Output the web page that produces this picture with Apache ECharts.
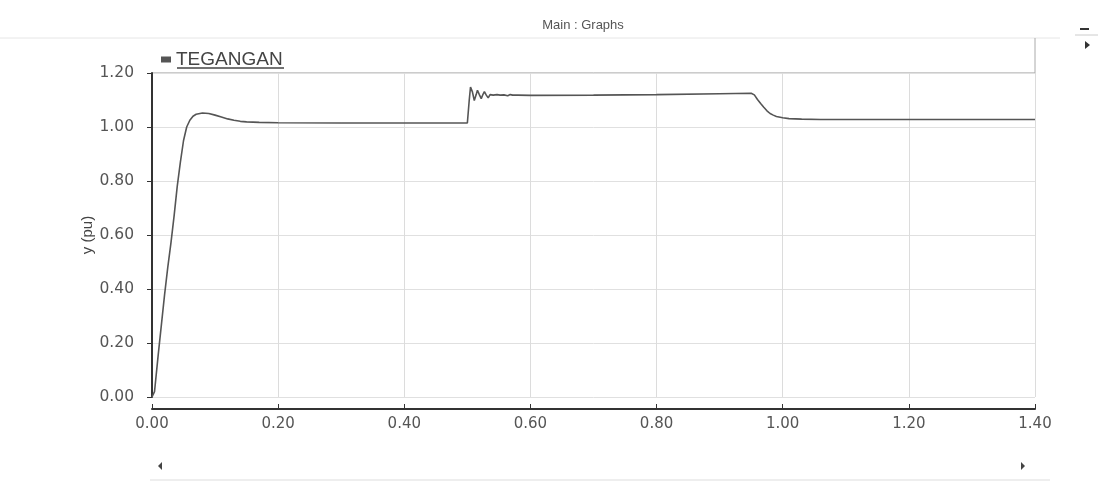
<!DOCTYPE html>
<html>
<head>
<meta charset="utf-8">
<script src="https://cdn.jsdelivr.net/npm/echarts@6/dist/echarts.min.js"></script>
<style>html,body{margin:0;padding:0;background:#fff;}#c{width:1100px;height:483px;}</style>
</head>
<body>
<div id="c"></div>
<script>
const titleText = 'Main : Graphs';
const seriesName = 'TEGANGAN';
const yAxisName = 'y (pu)';
const xTicks = [0, 0.2, 0.4, 0.6, 0.8, 1.0, 1.2, 1.4];
const yTicks = [0, 0.2, 0.4, 0.6, 0.8, 1.0, 1.2];
const timeS = [
  0, 0.004, 0.01, 0.015, 0.02, 0.025, 0.03, 0.035, 0.04, 0.045, 0.05, 0.055, 0.06, 0.065, 0.07, 0.08, 0.09,
  0.10, 0.11, 0.12, 0.13, 0.14, 0.15, 0.17, 0.20, 0.30, 0.40, 0.50,
  0.501, 0.503, 0.505, 0.508, 0.511, 0.514, 0.516, 0.519, 0.522, 0.525, 0.527, 0.530, 0.533, 0.536, 0.538,
  0.541, 0.544, 0.547, 0.549, 0.552, 0.555, 0.558, 0.560, 0.564, 0.568, 0.572, 0.58, 0.60, 0.70, 0.80, 0.90, 0.95,
  0.955, 0.96, 0.965, 0.97, 0.975, 0.98, 0.985, 0.99, 1.00, 1.01, 1.03, 1.06, 1.10, 1.20, 1.30, 1.40
];
const voltagePu = [
  0, 0.02, 0.16, 0.27, 0.38, 0.48, 0.57, 0.67, 0.78, 0.87, 0.95, 1.00, 1.025, 1.04, 1.047, 1.052, 1.050,
  1.044, 1.037, 1.030, 1.025, 1.021, 1.019, 1.017, 1.016, 1.015, 1.015, 1.015,
  1.016, 1.10, 1.148, 1.13, 1.098, 1.12, 1.136, 1.12, 1.105, 1.122, 1.131, 1.118, 1.108, 1.12, 1.127,
  1.118, 1.111, 1.12, 1.125, 1.118, 1.113, 1.119, 1.123, 1.116, 1.12, 1.118, 1.118, 1.117, 1.118, 1.120, 1.123, 1.125,
  1.119, 1.102, 1.087, 1.073, 1.060, 1.050, 1.044, 1.039, 1.034, 1.031, 1.029, 1.028, 1.028, 1.028, 1.028, 1.028
];

const FONT = 'Liberation Sans, Arial, sans-serif';
const TICKFONT = 'DejaVu Sans, sans-serif';
const chart = echarts.init(document.getElementById('c'));
chart.setOption({
  animation: false,
  backgroundColor: '#fff',
  textStyle: { fontFamily: FONT },
  title: {
    text: titleText, left: 578, top: 14, textAlign: 'center',
    textStyle: { fontSize: 13, fontWeight: 'normal', color: '#555', fontFamily: FONT }
  },
  legend: {
    left: 156, top: 45, icon: 'rect', itemWidth: 10, itemHeight: 6, itemGap: 10,
    data: [seriesName],
    textStyle: { fontSize: 19, color: '#444', fontFamily: FONT }
  },
  grid: { left: 152, right: 65, top: 73, bottom: 86 },
  xAxis: {
    type: 'value', min: xTicks[0], max: xTicks[xTicks.length - 1], interval: 0.2,
    offset: 12,
    axisLine: { show: true, onZero: false, lineStyle: { color: '#333', width: 2 } },
    axisTick: { show: true, inside: true, length: 5, lineStyle: { color: '#333' } },
    axisLabel: { fontSize: 15, color: '#555', margin: 8, fontFamily: TICKFONT, formatter: v => v.toFixed(2) },
    splitLine: { show: true, lineStyle: { color: '#dcdcdc', width: 1 } }
  },
  yAxis: {
    type: 'value', min: yTicks[0], max: yTicks[yTicks.length - 1], interval: 0.2,
    name: yAxisName, nameLocation: 'middle', nameGap: 57, nameRotate: 90, nameMoveOverlap: false,
    nameTextStyle: { fontSize: 15, color: '#444', fontFamily: FONT },
    axisLine: { show: true, lineStyle: { color: '#333', width: 2 } },
    axisTick: { show: true, inside: false, length: 5, lineStyle: { color: '#333' } },
    axisLabel: { fontSize: 15.5, color: '#555', margin: 18, fontFamily: TICKFONT, formatter: v => v.toFixed(2) },
    splitLine: { show: true, lineStyle: { color: '#e0e0e0', width: 1 } }
  },
  series: [{
    name: seriesName, type: 'line', showSymbol: false, symbol: 'none',
    lineStyle: { color: '#555', width: 1.6 }, itemStyle: { color: '#555' },
    data: timeS.map((t, i) => [t, voltagePu[i]])
  }],
  graphic: [
    { type: 'line', shape: { x1: 0, y1: 38, x2: 1060, y2: 38 }, style: { stroke: '#e6e6e6', lineWidth: 1 } },
    { type: 'line', shape: { x1: 152, y1: 73, x2: 1035, y2: 73 }, style: { stroke: '#999', lineWidth: 1 } },
    { type: 'line', shape: { x1: 1035, y1: 38, x2: 1035, y2: 73 }, style: { stroke: '#aaa', lineWidth: 1 } },
    { type: 'line', shape: { x1: 177, y1: 68, x2: 284, y2: 68 }, style: { stroke: '#444', lineWidth: 1.5 } },
    { type: 'rect', shape: { x: 1080, y: 28, width: 9, height: 2 }, style: { fill: '#333' } },
    { type: 'line', shape: { x1: 1075, y1: 35, x2: 1098, y2: 35 }, style: { stroke: '#ccc', lineWidth: 1 } },
    { type: 'polygon', shape: { points: [[1085, 41], [1085, 49], [1090, 45]] }, style: { fill: '#333' } },
    { type: 'polygon', shape: { points: [[162, 462], [162, 470], [158, 466]] }, style: { fill: '#444' } },
    { type: 'polygon', shape: { points: [[1021, 462], [1021, 470], [1025, 466]] }, style: { fill: '#444' } },
    { type: 'line', shape: { x1: 150, y1: 480, x2: 1050, y2: 480 }, style: { stroke: '#ddd', lineWidth: 1 } }
  ]
});
</script>
</body>
</html>
